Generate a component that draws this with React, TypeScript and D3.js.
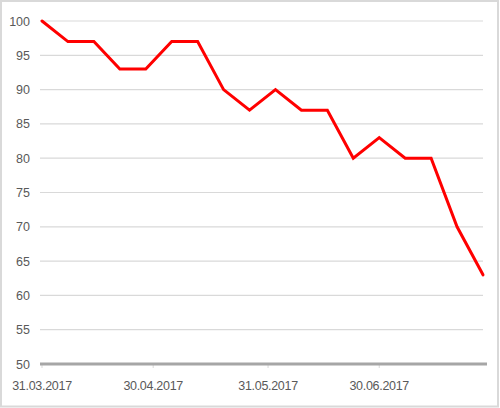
import React from "react";
import * as d3 from "d3";

const dates: string[] = [
  "2017-03-31", "2017-04-07", "2017-04-14", "2017-04-21", "2017-04-28", "2017-05-05",
  "2017-05-12", "2017-05-19", "2017-05-26", "2017-06-02", "2017-06-09", "2017-06-16",
  "2017-06-23", "2017-06-30", "2017-07-07", "2017-07-14", "2017-07-21", "2017-07-28",
];
const values: number[] = [100, 97, 97, 93, 93, 97, 97, 90, 87, 90, 87, 87, 80, 83, 80, 80, 70, 63];
const yTicks: number[] = [50, 55, 60, 65, 70, 75, 80, 85, 90, 95, 100];
const xTickDates: string[] = ["2017-03-31", "2017-04-30", "2017-05-31", "2017-06-30"];

const W = 500;
const H = 408;

export default function App() {
  const parse = d3.utcParse("%Y-%m-%d");
  const fmt = d3.utcFormat("%d.%m.%Y");
  const pts = dates.map((d, i) => ({ date: parse(d) as Date, v: values[i] }));
  const x = d3
    .scaleUtc()
    .domain([parse(dates[0]) as Date, parse(dates[dates.length - 1]) as Date])
    .range([42, 483]);
  const y = d3.scaleLinear().domain([50, 100]).range([364, 21]);
  const line = d3
    .line<{ date: Date; v: number }>()
    .x((d) => x(d.date))
    .y((d) => y(d.v));
  const font = "'Liberation Sans', Arial, sans-serif";
  return (
    <svg
      width={W}
      height={H}
      style={{ position: "absolute", left: 0, top: 0, background: "#fff" }}
    >
      <rect x={1} y={1} width={W - 3} height={H - 2.5} fill="#fff" stroke="#d9d9d9" strokeWidth={2} />
      {yTicks
        .filter((t) => t !== 50)
        .map((t) => (
          <line key={t} x1={40} x2={483} y1={y(t)} y2={y(t)} stroke="#d9d9d9" strokeWidth={1.2} />
        ))}
      {xTickDates.map((d) => {
        const px = x(parse(d) as Date);
        return (
          <line key={"t" + d} x1={px} x2={px} y1={y(50)} y2={y(50) + 4} stroke="#d9d9d9" strokeWidth={1} />
        );
      })}
      <line x1={40} x2={487} y1={y(50)} y2={y(50)} stroke="#a6a6a6" strokeWidth={3} />
      {yTicks.map((t) => (
        <text
          key={"l" + t}
          x={30}
          y={y(t)}
          dy="0.36em"
          textAnchor="end"
          fontFamily={font}
          fontSize={12.5}
          fill="#595959"
        >
          {t}
        </text>
      ))}
      {xTickDates.map((d) => (
        <text
          key={"x" + d}
          x={x(parse(d) as Date)}
          y={390}
          textAnchor="middle"
          fontFamily={font}
          fontSize={12.5}
          fill="#595959"
          letterSpacing={-0.3}
        >
          {fmt(parse(d) as Date)}
        </text>
      ))}
      <path d={line(pts) || ""} fill="none" stroke="#ff0000" strokeWidth={3} strokeLinejoin="miter" strokeLinecap="round" />
    </svg>
  );
}
